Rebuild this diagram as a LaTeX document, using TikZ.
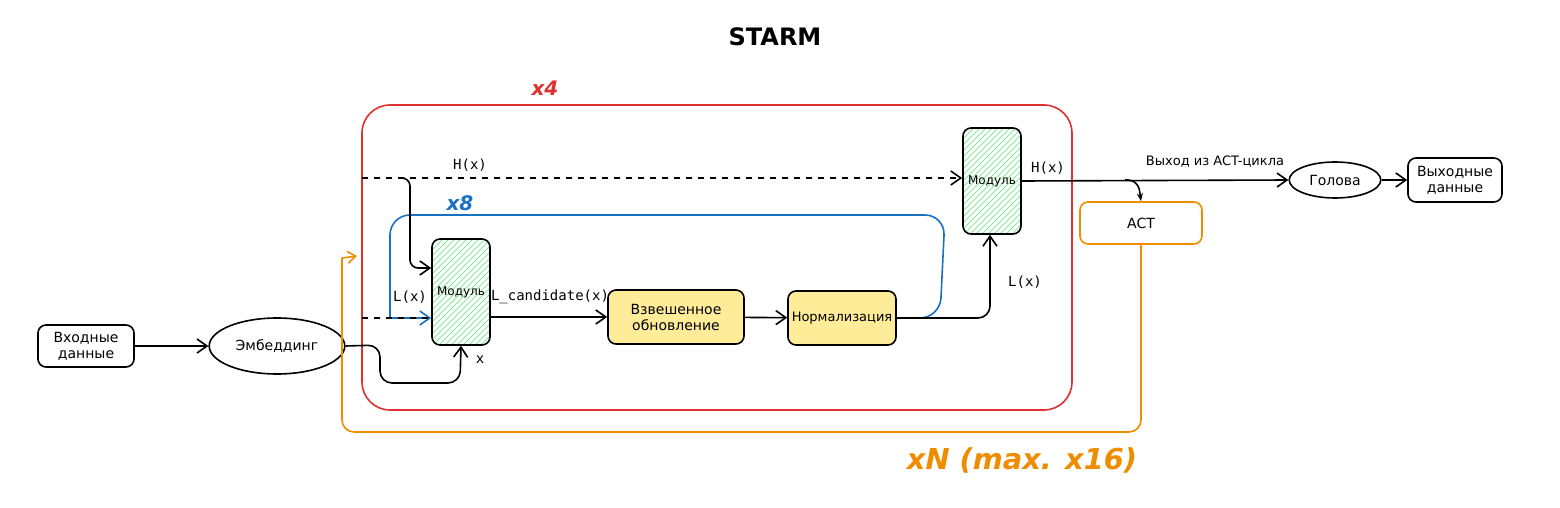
\documentclass[tikz,border=0pt]{standalone}
\usepackage{fontspec}
\setmainfont{DejaVu Sans}
\setmonofont{DejaVu Sans Mono}
\usetikzlibrary{arrows.meta,shapes.geometric,patterns}
\definecolor{redl}{HTML}{E03131}
\definecolor{bluel}{HTML}{1971C2}
\definecolor{orl}{HTML}{F08C00}
\definecolor{yel}{HTML}{FFEC99}
\definecolor{grn}{HTML}{8CE99A}
\tikzset{
  box/.style={draw,thick,rounded corners=4pt,align=center,font=\scriptsize,inner sep=0pt},
  mod/.style={box,minimum width=29pt,minimum height=53pt,pattern=north east lines,pattern color=grn,font=\fontsize{6}{7}\selectfont},
  proc/.style={box,fill=yel,minimum width=68pt,minimum height=27pt},
  arr/.style={thick,-{Straight Barb[length=5pt,width=7pt]}},
  lbl/.style={font=\ttfamily\scriptsize}
}
\begin{document}
\begin{tikzpicture}[x=0.5pt,y=-0.5pt]
    \useasboundingbox (0,0) rectangle (1560,508);

    %% title
    \node (title) at (775,37) {\large\bfseries STARM};

    %% loops
    \draw[redl,thick,rounded corners=14pt] (362,105) rectangle (1072,410);
    \node[redl,font=\itshape\bfseries] (xfour) at (545,88) {x4};

    %% nodes
    \node[box,minimum width=48pt,minimum height=21pt] (inp) at (86,346) {Входные\\данные};
    \node[draw,thick,ellipse,minimum width=60pt,minimum height=28pt,font=\scriptsize] (emb) at (277,346) {Эмбеддинг};
    \node[mod] (modl) at (461,292) {Модуль};
    \node[mod] (modh) at (992,181) {Модуль};
    \node[proc] (upd) at (676,317) {Взвешенное\\обновление};
    \node[proc,minimum width=54pt,font=\fontsize{6.5}{8}\selectfont] (norm) at (842,318) {Нормализация};
    \node[box,draw=orl,minimum width=61pt,minimum height=21pt] (act) at (1141,223) {ACT};
    \node[draw,thick,ellipse,minimum width=43pt,minimum height=18pt,font=\scriptsize] (head) at (1335,180) {Голова};
    \node[box,minimum width=47pt,minimum height=22pt] (out) at (1455,180) {Выходные\\данные};

    %% helper points
    \coordinate (hin) at (362,178);
    \coordinate (hbr) at (398,178);
    \coordinate (lin) at (362,318);
    \coordinate (hsplit) at (1125,180);

    %% x8 loop
    \draw[bluel,thick,rounded corners=10pt] (norm.east) -- (940,318) -- (945,215) -- (390,215) -- (390,318);
    \draw[bluel,arr] (390,318) -- (modl.west |- 0,318);
    \node[bluel,font=\itshape\bfseries] (xeight) at (460,203) {x8};

    %% connectors
    \draw[arr] (inp) -- (emb);
    \draw[thick,dashed] (lin) -- (modl.west |- lin);
    \draw[thick,dashed,-{Straight Barb[length=5pt,width=7pt]}] (hin) -- (modh.west |- hin);
    \node[lbl] (hlab) at (470,165) {H(x)};
    \draw[arr,rounded corners=4pt] (hbr) -- (410,178) -- (410,268) -- (modl.west |- 0,268);
    \node[lbl] (llab) at (410,297) {L(x)};
    \draw[arr,rounded corners=6pt] (emb.east) -- (380,345) -- (380,383) -- (460,383) -- (modl.south);
    \node[lbl] (xlab) at (480,360) {x};
    \draw[arr] (modl.east |- upd) -- (upd.west);
    \node[lbl] (lcand) at (550,297) {L\_candidate(x)};
    \draw[arr] (upd) -- (norm);
    \draw[arr,rounded corners=6pt] (norm.east) -- (990,318) -- (modh.south -| 990,0);
    \node[lbl] (l2lab) at (1025,282) {L(x)};
    \draw[arr] (modh.east) -- (head.west);
    \node[lbl] (h2lab) at (1048,168) {H(x)};
    \node[font=\fontsize{6.5}{8}\selectfont] (exitlab) at (1215,162) {Выход из ACT-цикла};
    \draw[thick,-{Stealth[length=4pt]},rounded corners=5pt] (hsplit) -- (1138,180) -- (act.north);
    \draw[arr] (head) -- (out);

    %% ACT loop
    \draw[orl,thick,rounded corners=6pt] (act.south) -- (1141,432) -- (342,432) -- (342,258);
    \draw[orl,thick,-{Straight Barb[length=4pt,width=6pt]}] (342,258) -- (357,256);
    \node[orl,font=\Large\itshape\bfseries] (xn) at (1022,460) {xN (max. x16)};
\end{tikzpicture}
\end{document}
